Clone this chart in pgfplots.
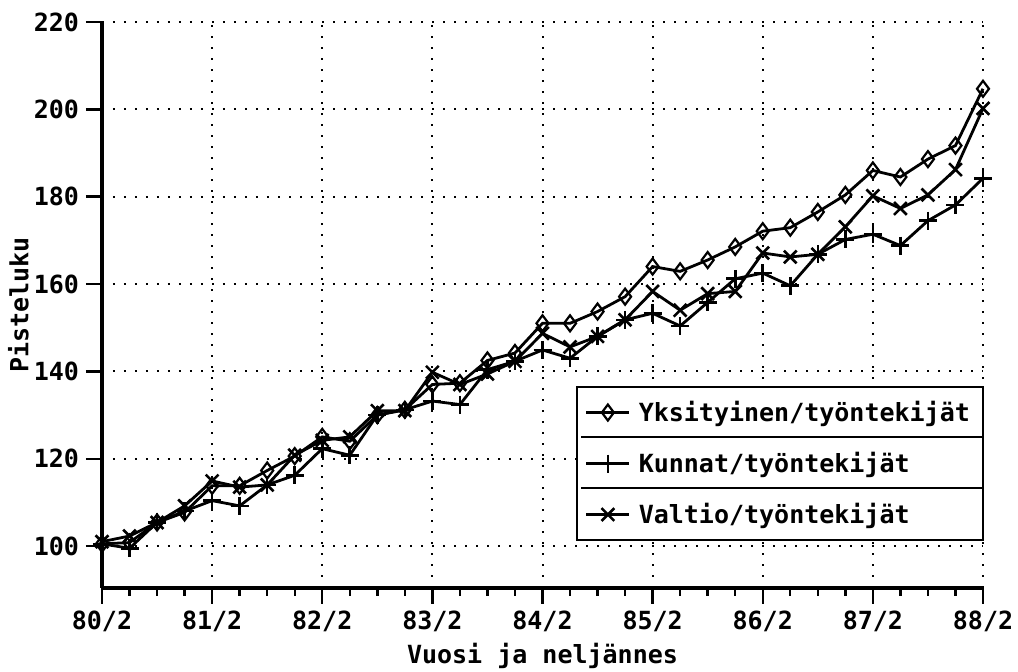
\documentclass[border=0pt]{standalone}
\usepackage{fontspec}
\usepackage{pgfplots}
\pgfplotsset{compat=1.18}
\newfontfamily\chartfont{DejaVu Sans Mono}
\newcommand{\cf}{\chartfont\bfseries\fontsize{12.5}{14}\selectfont}
\begin{document}
\begin{tikzpicture}
\path[use as bounding box] (-51pt,-42pt) rectangle (458pt,294pt);
\begin{axis}[
  at={(0pt,0pt)}, anchor=south west,
  scale only axis, width=440.5pt, height=283pt,
  xmin=0, xmax=32, ymin=90.4, ymax=220,
  clip=false,
  axis x line=bottom, axis y line=left,
  axis line style={-, line width=1.6pt, black},
  xtick={0,4,...,32},
  xticklabels={80/2,81/2,82/2,83/2,84/2,85/2,86/2,87/2,88/2},
  minor x tick num=3,
  ytick={100,120,...,220},
  tick align=outside,
  major tick length=8pt, minor tick length=4pt,
  every tick/.style={black, line width=1.2pt},
  grid=major,
  major grid style={black, line width=1pt, dash pattern=on 0.9pt off 4.6pt},
  /pgf/number format/assume math mode=true,
  tick label style={font=\cf},
  label style={font=\cf},
  xlabel={Vuosi ja neljännes},
  ylabel={Pisteluku},
  xlabel style={at={(axis description cs:0.5,-0.12)}, anchor=center},
  ylabel style={at={(axis description cs:-0.095,0.5)}, anchor=center},
  legend style={at={(axis description cs:1.001,0.357)}, anchor=north east,
    draw=black, line width=1.1pt, fill=white,
    inner xsep=4pt, inner ysep=0pt, row sep=0pt, column sep=3pt,
    nodes={inner xsep=1pt, inner ysep=0pt, minimum height=25.5pt, text width=167pt, font=\cf},
    cells={anchor=west}},
  legend image code/.code={\draw[mark repeat=2,mark phase=2,#1] plot coordinates {(0pt,0pt) (10.75pt,0pt) (21.5pt,0pt)};},
]
\addplot[black, line width=1.4pt, mark=diamond, mark size=4pt, mark options={solid, fill=white, line width=1.1pt}] coordinates {
(0,100.5) (1,100.8) (2,105.4) (3,107.7) (4,113.8) (5,113.8) (6,117.3) (7,120.6)
(8,125.0) (9,124.0) (10,130.0) (11,131.2) (12,137.0) (13,137.3) (14,142.5) (15,144.2)
(16,151.0) (17,151.0) (18,153.7) (19,157.1) (20,164.0) (21,162.9) (22,165.5) (23,168.5)
(24,172.1) (25,172.9) (26,176.5) (27,180.4) (28,186.0) (29,184.5) (30,188.6) (31,191.7)
(32,204.7)};
\addlegendentry{Yksityinen/työntekijät}
\addplot[black, line width=1.4pt, mark=+, mark size=4.5pt, mark options={solid, line width=1.3pt}] coordinates {
(0,100.5) (1,99.5) (2,105.4) (3,108.0) (4,110.4) (5,109.2) (6,114.0) (7,116.2)
(8,122.3) (9,120.8) (10,130.0) (11,131.2) (12,133.2) (13,132.4) (14,140.4) (15,142.3)
(16,144.9) (17,143.0) (18,148.0) (19,151.8) (20,153.3) (21,150.4) (22,155.8) (23,161.2)
(24,162.5) (25,159.6) (26,166.8) (27,170.2) (28,171.4) (29,168.8) (30,174.5) (31,178.1)
(32,184.2)};
\addlegendentry{Kunnat/työntekijät}
\addplot[black, line width=1.4pt, mark=x, mark size=4.5pt, mark options={solid, line width=1.3pt}] coordinates {
(0,101.0) (1,102.3) (2,105.4) (3,109.2) (4,114.9) (5,113.5) (6,114.0) (7,120.8)
(8,124.2) (9,125.0) (10,131.0) (11,131.0) (12,139.8) (13,137.0) (14,139.4) (15,142.3)
(16,148.7) (17,145.6) (18,148.0) (19,151.8) (20,158.3) (21,154.0) (22,157.8) (23,158.3)
(24,167.1) (25,166.2) (26,166.8) (27,173.1) (28,180.2) (29,177.3) (30,180.4) (31,186.2)
(32,200.2)};
\addlegendentry{Valtio/työntekijät}
\end{axis}
\draw[line width=1.1pt] (239.5pt,75.5pt) -- (441pt,75.5pt);
\draw[line width=1.1pt] (239.5pt,50pt) -- (441pt,50pt);
\end{tikzpicture}
\end{document}
